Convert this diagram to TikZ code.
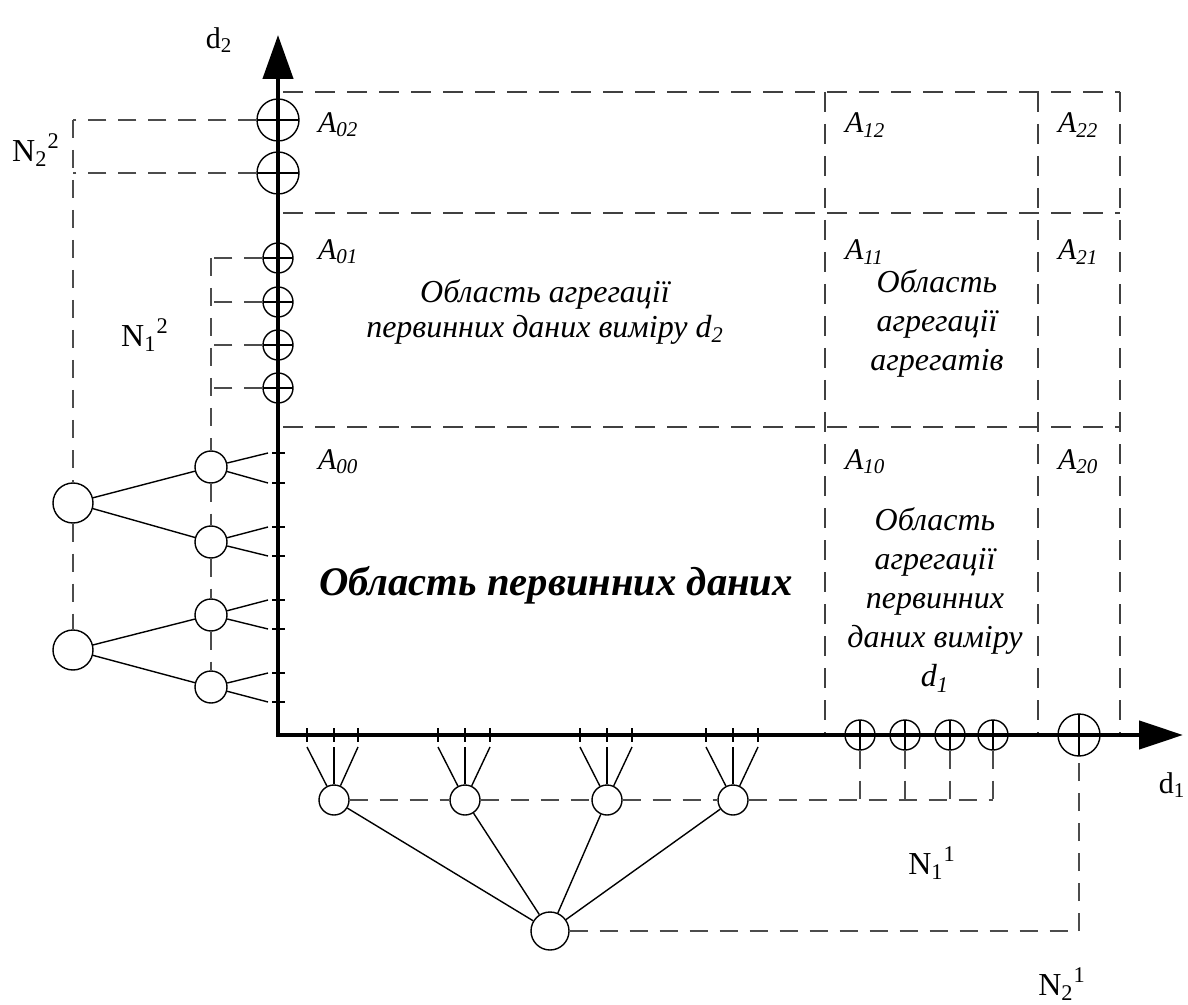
\documentclass[tikz,border=0pt]{standalone}
\usepackage{fontspec}
\setmainfont{Liberation Serif}
\usetikzlibrary{arrows.meta}

\begin{document}
\begin{tikzpicture}[x=0.5pt, y=-0.5pt]

		\tikzset{
			axisline/.style={
					line width=2.2pt, {Triangle[length=22pt,width=15pt]}-{Triangle[length=22pt,width=14pt]}
				},
			cellline/.style={
					dash pattern=on 10pt off 6pt, line width=1pt, black!75
				},
			brk/.style={
					dash pattern=on 9pt off 6pt, line width=0.9pt, black!70
				},
			edgeline/.style={line width=0.7pt},
			tickmark/.style={line width=1pt},
			pcirc/.style={
					circle, draw, line width=0.7pt, inner sep=0pt, minimum size=15pt,
					path picture={\draw[line width=1.1pt] (path picture bounding box.west) -- (path picture bounding box.east) (path picture bounding box.north) -- (path picture bounding box.south);}
				},
			bigpcirc/.style={pcirc, minimum size=21pt},
			agg/.style={
					circle, draw, fill=white, line width=0.7pt, inner sep=0pt, minimum size=15pt
				},
			bigagg/.style={agg, minimum size=20pt},
			areatext/.style={font=\itshape\fontsize{16}{19.5}\selectfont, align=center},
			celltext/.style={anchor=west, font=\itshape\fontsize{15}{17}\selectfont},
			lvltext/.style={font=\fontsize{16}{18}\selectfont},
		}

		\useasboundingbox (0,0) rectangle (1188,1005);

		\coordinate (o) at (278,735);
		\coordinate (ytop) at (278,35);
		\coordinate (xend) at (1183,735);

		% regions
		\draw[cellline] (283,92) -- (1120,92);
		\draw[cellline] (283,213) -- (1120,213);
		\draw[cellline] (283,427) -- (1120,427);
		\draw[cellline] (825,92) -- (825,735);
		\draw[cellline] (1038,92) -- (1038,735);
		\draw[cellline] (1120,92) -- (1120,735);

		\draw[axisline] (ytop) -- (o) -- (xend);

		\node[] (d2) at (219,40) {\fontsize{15}{17}\selectfont d\textsubscript{2}};
		\node[] (d1) at (1172,785) {\fontsize{15}{17}\selectfont d\textsubscript{1}};

		\node[celltext] (a02) at (311,125) {A\textsubscript{02}};
		\node[celltext] (a12) at (838,125) {A\textsubscript{12}};
		\node[celltext] (a22) at (1051,125) {A\textsubscript{22}};
		\node[celltext] (a01) at (311,252) {A\textsubscript{01}};
		\node[celltext] (a11) at (838,252) {A\textsubscript{11}};
		\node[celltext] (a21) at (1051,252) {A\textsubscript{21}};
		\node[celltext] (a00) at (311,462) {A\textsubscript{00}};
		\node[celltext] (a10) at (838,462) {A\textsubscript{10}};
		\node[celltext] (a20) at (1051,462) {A\textsubscript{20}};

		\node[areatext, font=\itshape\fontsize{16}{17.5}\selectfont] (t01) at (545,312) {Область агрегації\\первинних даних виміру d\textsubscript{2}};
		\node[areatext] (t11) at (937,323) {Область\\агрегації\\агрегатів};
		\node[areatext] (t10) at (935,600) {Область\\агрегації\\первинних\\даних виміру\\d\textsubscript{1}};
		\node[font=\bfseries\itshape\fontsize{20.3}{24}\selectfont] (t00) at (556,585) {Область первинних даних};

		% aggregates on d2
		\node[bigpcirc] (v02a) at (278,120) {};
		\node[bigpcirc] (v02b) at (278,173) {};
		\node[pcirc] (v01a) at (278,258) {};
		\node[pcirc] (v01b) at (278,302) {};
		\node[pcirc] (v01c) at (278,345) {};
		\node[pcirc] (v01d) at (278,388) {};

		% aggregates on d1
		\node[pcirc] (h10a) at (860,735) {};
		\node[pcirc] (h10b) at (905,735) {};
		\node[pcirc] (h10c) at (950,735) {};
		\node[pcirc] (h10d) at (993,735) {};
		\node[bigpcirc] (h20) at (1079,735) {};

		% ticks on d2
		\coordinate (ya1) at (278,453);
		\coordinate (ya2) at (278,483);
		\coordinate (ya3) at (278,527);
		\coordinate (ya4) at (278,556);
		\coordinate (ya5) at (278,600);
		\coordinate (ya6) at (278,629);
		\coordinate (ya7) at (278,673);
		\coordinate (ya8) at (278,702);
		\draw[tickmark] ([xshift=-3pt]ya1) -- ([xshift=3.5pt]ya1);
		\draw[tickmark] ([xshift=-3pt]ya2) -- ([xshift=3.5pt]ya2);
		\draw[tickmark] ([xshift=-3pt]ya3) -- ([xshift=3.5pt]ya3);
		\draw[tickmark] ([xshift=-3pt]ya4) -- ([xshift=3.5pt]ya4);
		\draw[tickmark] ([xshift=-3pt]ya5) -- ([xshift=3.5pt]ya5);
		\draw[tickmark] ([xshift=-3pt]ya6) -- ([xshift=3.5pt]ya6);
		\draw[tickmark] ([xshift=-3pt]ya7) -- ([xshift=3.5pt]ya7);
		\draw[tickmark] ([xshift=-3pt]ya8) -- ([xshift=3.5pt]ya8);

		% ticks on d1
		\coordinate (xa1) at (307,735);
		\coordinate (xa2) at (334,735);
		\coordinate (xa3) at (358,735);
		\coordinate (xa4) at (438,735);
		\coordinate (xa5) at (465,735);
		\coordinate (xa6) at (490,735);
		\coordinate (xa7) at (580,735);
		\coordinate (xa8) at (607,735);
		\coordinate (xa9) at (632,735);
		\coordinate (xa10) at (706,735);
		\coordinate (xa11) at (733,735);
		\coordinate (xa12) at (758,735);
		\draw[tickmark] ([yshift=3.5pt]xa1) -- ([yshift=-3.5pt]xa1);
		\draw[tickmark] ([yshift=3.5pt]xa2) -- ([yshift=-3.5pt]xa2);
		\draw[tickmark] ([yshift=3.5pt]xa3) -- ([yshift=-3.5pt]xa3);
		\draw[tickmark] ([yshift=3.5pt]xa4) -- ([yshift=-3.5pt]xa4);
		\draw[tickmark] ([yshift=3.5pt]xa5) -- ([yshift=-3.5pt]xa5);
		\draw[tickmark] ([yshift=3.5pt]xa6) -- ([yshift=-3.5pt]xa6);
		\draw[tickmark] ([yshift=3.5pt]xa7) -- ([yshift=-3.5pt]xa7);
		\draw[tickmark] ([yshift=3.5pt]xa8) -- ([yshift=-3.5pt]xa8);
		\draw[tickmark] ([yshift=3.5pt]xa9) -- ([yshift=-3.5pt]xa9);
		\draw[tickmark] ([yshift=3.5pt]xa10) -- ([yshift=-3.5pt]xa10);
		\draw[tickmark] ([yshift=3.5pt]xa11) -- ([yshift=-3.5pt]xa11);
		\draw[tickmark] ([yshift=3.5pt]xa12) -- ([yshift=-3.5pt]xa12);

		% left tree
		\node[bigagg] (l1) at (73,503) {};
		\node[bigagg] (l2) at (73,650) {};
		\node[agg, minimum size=16pt] (s1) at (211,467) {};
		\node[agg, minimum size=16pt] (s2) at (211,542) {};
		\node[agg, minimum size=16pt] (s3) at (211,615) {};
		\node[agg, minimum size=16pt] (s4) at (211,687) {};

		% bottom tree
		\node[bigagg, minimum size=19pt] (r) at (550,931) {};
		\node[agg] (b1) at (334,800) {};
		\node[agg] (b2) at (465,800) {};
		\node[agg] (b3) at (607,800) {};
		\node[agg] (b4) at (733,800) {};

		\draw[edgeline] (l1) -- (s1);
		\draw[edgeline] (l1) -- (s2);
		\draw[edgeline] (l2) -- (s3);
		\draw[edgeline] (l2) -- (s4);

		\draw[edgeline] (s1) -- ([xshift=-5pt]ya1);
		\draw[edgeline] (s1) -- ([xshift=-5pt]ya2);
		\draw[edgeline] (s2) -- ([xshift=-5pt]ya3);
		\draw[edgeline] (s2) -- ([xshift=-5pt]ya4);
		\draw[edgeline] (s3) -- ([xshift=-5pt]ya5);
		\draw[edgeline] (s3) -- ([xshift=-5pt]ya6);
		\draw[edgeline] (s4) -- ([xshift=-5pt]ya7);
		\draw[edgeline] (s4) -- ([xshift=-5pt]ya8);

		\draw[edgeline] (r) -- (b1);
		\draw[edgeline] (r) -- (b2);
		\draw[edgeline] (r) -- (b3);
		\draw[edgeline] (r) -- (b4);

		\draw[edgeline] (b1) -- ([yshift=-6pt]xa1);
		\draw[edgeline] (b1) -- ([yshift=-6pt]xa2);
		\draw[edgeline] (b1) -- ([yshift=-6pt]xa3);
		\draw[edgeline] (b2) -- ([yshift=-6pt]xa4);
		\draw[edgeline] (b2) -- ([yshift=-6pt]xa5);
		\draw[edgeline] (b2) -- ([yshift=-6pt]xa6);
		\draw[edgeline] (b3) -- ([yshift=-6pt]xa7);
		\draw[edgeline] (b3) -- ([yshift=-6pt]xa8);
		\draw[edgeline] (b3) -- ([yshift=-6pt]xa9);
		\draw[edgeline] (b4) -- ([yshift=-6pt]xa10);
		\draw[edgeline] (b4) -- ([yshift=-6pt]xa11);
		\draw[edgeline] (b4) -- ([yshift=-6pt]xa12);

		% levels N
		\coordinate (k22a) at (73,120);
		\coordinate (k22b) at (73,173);
		\draw[brk] (v02a) -- (k22a);
		\draw[brk] (v02b) -- (k22b);
		\draw[brk] (k22a) -- (l1);
		\draw[brk] (l1) -- (l2);

		\coordinate (k12a) at (211,258);
		\coordinate (k12b) at (211,302);
		\coordinate (k12c) at (211,345);
		\coordinate (k12d) at (211,388);
		\draw[brk] (v01a) -- (k12a);
		\draw[brk] (v01b) -- (k12b);
		\draw[brk] (v01c) -- (k12c);
		\draw[brk] (v01d) -- (k12d);
		\draw[brk] (k12a) -- (s1);
		\draw[brk] (s1) -- (s2);
		\draw[brk] (s2) -- (s3);
		\draw[brk] (s3) -- (s4);

		\coordinate (k11a) at (860,800);
		\coordinate (k11b) at (905,800);
		\coordinate (k11c) at (950,800);
		\coordinate (k11d) at (993,800);
		\draw[brk] (h10a) -- (k11a);
		\draw[brk] (h10b) -- (k11b);
		\draw[brk] (h10c) -- (k11c);
		\draw[brk] (h10d) -- (k11d);
		\draw[brk] (b1) -- (b2);
		\draw[brk] (b2) -- (b3);
		\draw[brk] (b3) -- (b4);
		\draw[brk] (b4) -- (k11d);

		\coordinate (k21) at (1079,931);
		\draw[brk] (r) -- (k21);
		\draw[brk] (k21) -- (h20);

		\node[lvltext] (n22) at (36,150) {N\textsubscript{2}\textsuperscript{2}};
		\node[lvltext] (n12) at (145,335) {N\textsubscript{1}\textsuperscript{2}};
		\node[lvltext] (n11) at (932,863) {N\textsubscript{1}\textsuperscript{1}};
		\node[lvltext] (n21) at (1062,984) {N\textsubscript{2}\textsuperscript{1}};

	\end{tikzpicture}
\end{document}
